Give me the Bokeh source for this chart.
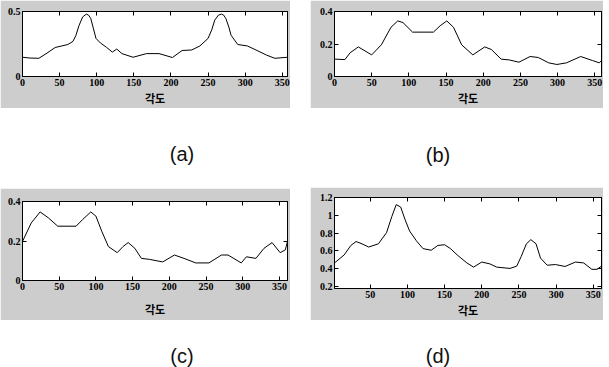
from bokeh.plotting import figure
from bokeh.layouts import row, column
from bokeh.models import Div, Spacer, LinearAxis, FixedTicker, Range1d
from bokeh.embed import file_html
from bokeh.resources import INLINE

# ---------------- data ----------------
x_ticks = [0, 50, 100, 150, 200, 250, 300, 350]
x_label = "각도"
panel_labels = ["(a)", "(b)", "(c)", "(d)"]

a_deg = [0, 10, 22, 33, 44, 61, 68, 72, 76, 81, 86, 89, 92, 95, 99, 105, 113, 121, 127, 134, 149,
         167, 184, 202, 215, 228, 239, 250, 255, 259, 264, 268, 271, 274, 278, 281, 290, 303, 316,
         329, 340, 357]
a_val = [0.148, 0.142, 0.140, 0.180, 0.223, 0.246, 0.270, 0.317, 0.390, 0.458, 0.480, 0.472, 0.446,
         0.380, 0.293, 0.258, 0.225, 0.188, 0.211, 0.176, 0.148,
         0.176, 0.176, 0.146, 0.200, 0.204, 0.235, 0.293, 0.360, 0.434, 0.472, 0.480, 0.472, 0.446,
         0.380, 0.317, 0.246, 0.235, 0.200, 0.164, 0.140, 0.148]
a_yticks = [0, 0.5]
a_yrange = (0, 0.5)
a_xrange = (0, 357)

b_deg = [0, 14, 21, 32, 50, 63, 76, 85, 92, 105, 133, 142, 151, 160, 171, 186, 202, 211, 224, 235,
         248, 263, 274, 288, 299, 312, 331, 347, 356, 359]
b_val = [0.107, 0.104, 0.146, 0.182, 0.133, 0.195, 0.303, 0.342, 0.332, 0.273, 0.273, 0.312, 0.342,
         0.303, 0.195, 0.133, 0.182, 0.166, 0.107, 0.102, 0.088, 0.123, 0.117, 0.084, 0.074, 0.084,
         0.123, 0.098, 0.084, 0.098]
b_yticks = [0, 0.2, 0.4]
b_yrange = (0, 0.4)
b_xrange = (0, 359)

c_deg = [0, 12, 24, 35, 48, 73, 82, 93, 100, 108, 117, 129, 137, 144, 153, 162, 173, 191, 207, 220,
         236, 254, 271, 280, 298, 305, 318, 329, 340, 351, 358, 361]
c_val = [0.198, 0.292, 0.347, 0.318, 0.275, 0.275, 0.309, 0.347, 0.326, 0.249, 0.172, 0.141, 0.172,
         0.192, 0.163, 0.112, 0.107, 0.094, 0.129, 0.112, 0.089, 0.089, 0.129, 0.129, 0.089, 0.120,
         0.112, 0.163, 0.192, 0.141, 0.155, 0.198]
c_yticks = [0, 0.2, 0.4]
c_yrange = (0, 0.4)
c_xrange = (0, 361)

d_deg = [2, 15, 24, 31, 39, 48, 61, 72, 79, 85, 91, 97, 103, 112, 121, 132, 141, 150, 158, 167, 180,
         189, 200, 211, 220, 238, 247, 253, 260, 266, 273, 279, 288, 299, 312, 326, 337, 348, 355, 361]
d_val = [0.463, 0.553, 0.660, 0.704, 0.678, 0.642, 0.678, 0.804, 0.984, 1.120, 1.092, 0.948, 0.822,
         0.714, 0.624, 0.606, 0.660, 0.668, 0.624, 0.553, 0.463, 0.416, 0.473, 0.452, 0.416, 0.401,
         0.427, 0.535, 0.678, 0.725, 0.678, 0.517, 0.437, 0.445, 0.423, 0.473, 0.463, 0.391, 0.391,
         0.427]
d_yticks = [0.2, 0.4, 0.6, 0.8, 1.0, 1.2]
d_yrange = (0.175, 1.2)
d_xrange = (2, 361)

# ---------------- style ----------------
GRAY = "#cdcdcd"
TICK_FONT = "Liberation Sans Narrow"
CJK_FONT = "Noto Sans CJK KR"


def fmt_ticks(ticks):
    return {t: ("%g" % t) for t in ticks}


def make_panel(deg, val, xr, yr, yticks, width, height, left, right, top, bottom, label_standoff):
    p = figure(width=width, height=height,
               x_range=Range1d(*xr), y_range=Range1d(*yr),
               output_backend="svg", toolbar_location=None,
               min_border_left=left, min_border_right=right,
               min_border_top=top, min_border_bottom=bottom)
    p.border_fill_color = GRAY
    p.background_fill_color = "white"
    p.outline_line_color = "black"
    p.outline_line_width = 1
    p.grid.visible = False
    p.line(deg, val, line_color="black", line_width=1)

    xa = p.xaxis[0]
    xa.ticker = FixedTicker(ticks=x_ticks)
    xa.major_label_overrides = fmt_ticks(x_ticks)
    ya = p.yaxis[0]
    ya.ticker = FixedTicker(ticks=yticks)
    ya.major_label_overrides = fmt_ticks(yticks)
    for ax in (xa, ya):
        ax.major_tick_in = 4
        ax.major_tick_out = 0
        ax.minor_tick_in = 0
        ax.minor_tick_out = 0
        ax.axis_line_color = "black"
        ax.major_tick_line_color = "black"
        ax.major_label_text_font = TICK_FONT
        ax.major_label_text_font_style = "bold"
        ax.major_label_text_font_size = "10px"
        ax.major_label_text_color = "black"
        ax.major_label_standoff = 2
    xa.axis_label = x_label
    xa.axis_label_text_font = CJK_FONT
    xa.axis_label_text_font_style = "bold"
    xa.axis_label_text_font_size = "11px"
    xa.axis_label_text_color = "black"
    xa.axis_label_standoff = label_standoff

    # box ticks on the top and right sides (no labels drawn)
    top_ax = LinearAxis(ticker=FixedTicker(ticks=x_ticks))
    right_ax = LinearAxis(ticker=FixedTicker(ticks=yticks))
    for ax in (top_ax, right_ax):
        ax.major_tick_in = 4
        ax.major_tick_out = 0
        ax.minor_tick_in = 0
        ax.minor_tick_out = 0
        ax.major_label_text_font_size = "1px"
        ax.major_label_text_color = None
        ax.major_label_text_alpha = 0
        ax.major_label_standoff = 0
        ax.axis_line_color = "black"
        ax.major_tick_line_color = "black"
    p.add_layout(top_ax, "above")
    p.add_layout(right_ax, "right")
    return p


def label_div(text, width, height, center_x, center_y):
    html = ('<div style="width:40px;margin-left:%dpx;margin-top:%dpx;text-align:center;'
            'font-family:\'Liberation Sans Narrow\',\'Liberation Sans\',sans-serif;'
            'font-size:20px;line-height:20px;color:#111;">%s</div>') % (center_x - 20, center_y - 10, text)
    return Div(text=html, width=width, height=height)


pa = make_panel(a_deg, a_val, a_xrange, a_yrange, a_yticks, 290, 108, 22, 2, 11, 27, 1)
pb = make_panel(b_deg, b_val, b_xrange, b_yrange, b_yticks, 293, 108, 22, 2, 11, 29, 1)
pc = make_panel(c_deg, c_val, c_xrange, c_yrange, c_yticks, 290, 132, 22, 3, 13, 40, 8)
pd = make_panel(d_deg, d_val, d_xrange, d_yrange, d_yticks, 293, 133, 24, 2, 10, 28, 1)

la = label_div(panel_labels[0], 290, 70, 177, 41)
lb = label_div(panel_labels[1], 293, 69, 123, 42)
lc = label_div(panel_labels[2], 290, 41, 177, 31)
ld = label_div(panel_labels[3], 293, 41, 123, 31)

left_col = column(pa, la, pc, lc)
right_col = column(pb, lb, pd, ld)
layout = row(left_col, Spacer(width=10), right_col)

open("out.html", "w").write(file_html(layout, INLINE))
